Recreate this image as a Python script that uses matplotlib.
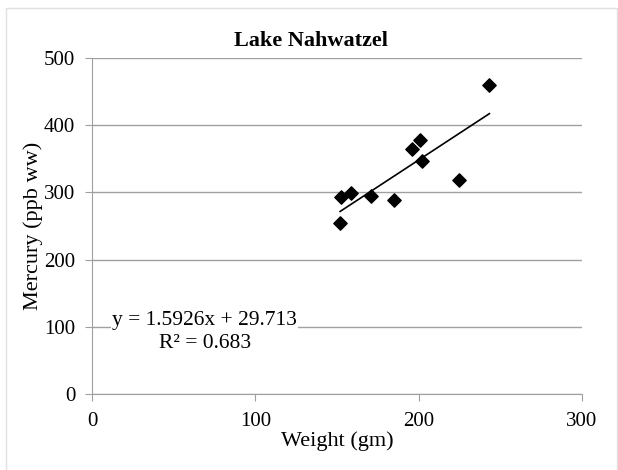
import numpy as np
import matplotlib.pyplot as plt
from matplotlib.patches import Rectangle

plt.rcParams['font.family'] = ['Liberation Serif', 'DejaVu Serif']

# Fish weight (gm) vs mercury concentration (ppb ww)
weight = [151.9, 152.5, 158.6, 170.7, 184.7, 195.7, 200.8, 201.9, 224.7, 243.3]
mercury = [255, 293, 299, 294, 288, 365, 378, 347, 319, 460]

# Linear trendline coefficients
slope, intercept, r2 = 1.5926, 29.713, 0.683

x_ticks = [0, 100, 200, 300]
y_ticks = [0, 100, 200, 300, 400, 500]

fig = plt.figure(figsize=(6.18, 4.70), dpi=100)
# light chart-area frame
fig.patches.append(Rectangle((6 / 618, -0.1), 611 / 618, 1.1 - 8 / 470,
                             transform=fig.transFigure, fill=False,
                             edgecolor='#e0e0e0', linewidth=1))
ax = fig.add_axes([92 / 618, 1 - 394 / 470, 490 / 618, 336 / 470])

ax.set_xlim(0, 300)
ax.set_ylim(0, 500)
ax.set_xticks(x_ticks)
ax.set_yticks(y_ticks)
ax.grid(axis='y', color='#a0a0a0', linewidth=1)
ax.set_axisbelow(True)
for side in ['top', 'right']:
    ax.spines[side].set_visible(False)
for side in ['left', 'bottom']:
    ax.spines[side].set_color('#a0a0a0')
ax.tick_params(direction='out', length=5, color='#a0a0a0', labelsize=15)
ax.tick_params(axis='y', pad=7)
ax.tick_params(axis='x', pad=8)

ax.scatter(weight, mercury, marker='D', s=46, color='black', zorder=3)

xs = np.array([min(weight), max(weight)])
ax.plot(xs, slope * xs + intercept, color='black', linewidth=1.2, zorder=2)

ax.text(69, 92, f'y = {slope}x + {intercept}\nR² = {r2}', fontsize=15.5,
        ha='center', va='center', linespacing=1.25,
        bbox=dict(facecolor='white', edgecolor='none', pad=1))

ax.set_title('Lake Nahwatzel', fontsize=16, fontweight='bold', pad=9,
             x=(311 - 92) / 490)
ax.set_xlabel('Weight (gm)', fontsize=16, labelpad=0)
ax.set_ylabel('Mercury (ppb ww)', fontsize=16, labelpad=1)

fig.savefig('out.png', dpi=100)
